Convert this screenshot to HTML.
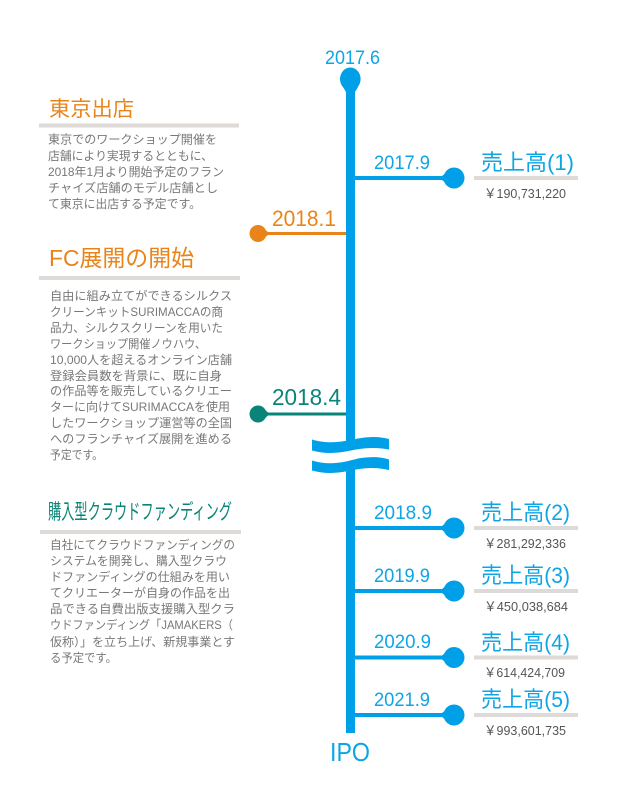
<!DOCTYPE html>
<html lang="ja"><head><meta charset="utf-8"><style>
html,body{margin:0;padding:0;background:#fff}
svg{display:block}
text{font-family:"Liberation Sans","Noto Sans CJK JP",sans-serif}
.b{font-size:12px;fill:#787878}
.d{fill:#0ea5e6}
.y{font-size:13px;fill:#555}
</style></head><body>
<svg width="618" height="794" viewBox="0 0 618 794" xmlns="http://www.w3.org/2000/svg">
<rect width="618" height="794" fill="#fff"/>
<g fill="#dedad7">
<rect x="39" y="123.500" width="200" height="4"/>
<rect x="39" y="276" width="201" height="4"/>
<rect x="40" y="530" width="201" height="4"/>
<rect x="474" y="176" width="104" height="4"/>
<rect x="474" y="526" width="104" height="4"/>
<rect x="474" y="589" width="104" height="4"/>
<rect x="474" y="655.500" width="104" height="4"/>
<rect x="474" y="713" width="104" height="4"/>
</g>
<g fill="#00a0e9">
<rect x="346" y="80" width="9" height="653"/>
<ellipse cx="350.300" cy="79" rx="10.300" ry="11.500"/>
<path d="M343 87L346 92H355L358 87Z"/>
<rect x="350" y="176" width="100" height="4"/><circle cx="454" cy="178" r="10.500"/><path d="M442 176L447 172V184L442 180Z"/>
<rect x="350" y="526" width="100" height="4"/><circle cx="454" cy="528" r="10.500"/><path d="M442 526L447 522V534L442 530Z"/>
<rect x="350" y="589" width="100" height="4"/><circle cx="454" cy="591" r="10.500"/><path d="M442 589L447 585V597L442 593Z"/>
<rect x="350" y="655.500" width="100" height="4"/><circle cx="454" cy="657.500" r="10.500"/><path d="M442 655.500L447 651.500V663.500L442 659.500Z"/>
<rect x="350" y="713" width="100" height="4"/><circle cx="454" cy="715" r="10.500"/><path d="M442 713L447 709V721L442 717Z"/>
</g>
<rect x="258" y="232" width="88" height="3" fill="#e8841a"/><circle cx="258" cy="233.500" r="8.500" fill="#e8841a"/><path d="M268 232L264 229V238L268 235Z" fill="#e8841a"/>
<rect x="258" y="412.500" width="88" height="3" fill="#0a8478"/><circle cx="258" cy="414" r="8.500" fill="#0a8478"/><path d="M268 412.500L264 409V419L268 415.500Z" fill="#0a8478"/>
<path d="M312 442H389V466H312Z" fill="#fff"/>
<path d="M312 439.500C330 445 345 441 358 438.500C370 436.500 380 436.500 389 439V449.500C378 447.500 368 447.500 356 449.500C342 452.500 328 455 312 450.500Z" fill="#00a0e9"/>
<path d="M312 460.500C330 466 345 462 358 458.500C370 456.500 380 456.500 389 459.500V470C378 467.500 368 467.500 356 469.500C342 472.500 328 475 312 470.500Z" fill="#00a0e9"/>
<g class="d">
<text x="325" y="64" font-size="19" textLength="55" lengthAdjust="spacingAndGlyphs">2017.6</text>
<text x="374" y="169" font-size="19" textLength="56" lengthAdjust="spacingAndGlyphs">2017.9</text>
<text x="374" y="519" font-size="19" textLength="58" lengthAdjust="spacingAndGlyphs">2018.9</text>
<text x="374" y="582" font-size="19" textLength="56" lengthAdjust="spacingAndGlyphs">2019.9</text>
<text x="374" y="648" font-size="19" textLength="57" lengthAdjust="spacingAndGlyphs">2020.9</text>
<text x="374" y="706" font-size="19" textLength="56" lengthAdjust="spacingAndGlyphs">2021.9</text>
<text x="330" y="761" font-size="26" textLength="40" lengthAdjust="spacingAndGlyphs">IPO</text>
<text x="481" y="170" font-size="22" textLength="93" lengthAdjust="spacingAndGlyphs">売上高(1)</text>
<text x="481" y="520" font-size="22" textLength="89" lengthAdjust="spacingAndGlyphs">売上高(2)</text>
<text x="481" y="583" font-size="22" textLength="89" lengthAdjust="spacingAndGlyphs">売上高(3)</text>
<text x="481" y="650" font-size="22" textLength="89" lengthAdjust="spacingAndGlyphs">売上高(4)</text>
<text x="481" y="707" font-size="22" textLength="89" lengthAdjust="spacingAndGlyphs">売上高(5)</text>
</g>
<text x="272" y="226" font-size="22" fill="#e8841a" textLength="64" lengthAdjust="spacingAndGlyphs">2018.1</text>
<text x="272" y="405" font-size="23" fill="#0a8478" textLength="69" lengthAdjust="spacingAndGlyphs">2018.4</text>
<text x="49" y="116" font-size="21" fill="#e8841a" textLength="85" lengthAdjust="spacingAndGlyphs">東京出店</text>
<text x="49" y="266" font-size="23" fill="#e8841a" textLength="145" lengthAdjust="spacingAndGlyphs">FC展開の開始</text>
<text x="48" y="519" font-size="21" fill="#0a8478" textLength="184" lengthAdjust="spacingAndGlyphs">購入型クラウドファンディング</text>
<g class="y">
<text x="484" y="198" textLength="82" lengthAdjust="spacingAndGlyphs">￥190,731,220</text>
<text x="484" y="548" textLength="82" lengthAdjust="spacingAndGlyphs">￥281,292,336</text>
<text x="484" y="611" textLength="84" lengthAdjust="spacingAndGlyphs">￥450,038,684</text>
<text x="484" y="677" textLength="81" lengthAdjust="spacingAndGlyphs">￥614,424,709</text>
<text x="484" y="735" textLength="82" lengthAdjust="spacingAndGlyphs">￥993,601,735</text>
</g>
<g class="b">
<text x="48" y="143.500" textLength="169" lengthAdjust="spacingAndGlyphs">東京でのワークショップ開催を</text>
<text x="48" y="160" textLength="165" lengthAdjust="spacingAndGlyphs">店舗により実現するとともに、</text>
<text x="48" y="176" textLength="176" lengthAdjust="spacingAndGlyphs">2018年1月より開始予定のフラン</text>
<text x="48" y="192" textLength="170" lengthAdjust="spacingAndGlyphs">チャイズ店舗のモデル店舗とし</text>
<text x="48" y="208" textLength="153" lengthAdjust="spacingAndGlyphs">て東京に出店する予定です。</text>
<text x="50" y="300" textLength="182" lengthAdjust="spacingAndGlyphs">自由に組み立てができるシルクス</text>
<text x="50" y="316" textLength="173" lengthAdjust="spacingAndGlyphs">クリーンキットSURIMACCAの商</text>
<text x="50" y="332" textLength="173" lengthAdjust="spacingAndGlyphs">品力、シルクスクリーンを用いた</text>
<text x="50" y="348" textLength="156" lengthAdjust="spacingAndGlyphs">ワークショップ開催ノウハウ、</text>
<text x="50" y="364" textLength="182" lengthAdjust="spacingAndGlyphs">10,000人を超えるオンライン店舗</text>
<text x="50" y="380" textLength="172" lengthAdjust="spacingAndGlyphs">登録会員数を背景に、既に自身</text>
<text x="50" y="395" textLength="182" lengthAdjust="spacingAndGlyphs">の作品等を販売しているクリエー</text>
<text x="50" y="411" textLength="180" lengthAdjust="spacingAndGlyphs">ターに向けてSURIMACCAを使用</text>
<text x="50" y="427" textLength="182" lengthAdjust="spacingAndGlyphs">したワークショップ運営等の全国</text>
<text x="50" y="443" textLength="182" lengthAdjust="spacingAndGlyphs">へのフランチャイズ展開を進める</text>
<text x="50" y="459" textLength="53" lengthAdjust="spacingAndGlyphs">予定です。</text>
<text x="50" y="549" textLength="185" lengthAdjust="spacingAndGlyphs">自社にてクラウドファンディングの</text>
<text x="50" y="565" textLength="177" lengthAdjust="spacingAndGlyphs">システムを開発し、購入型クラウ</text>
<text x="50" y="581" textLength="180" lengthAdjust="spacingAndGlyphs">ドファンディングの仕組みを用い</text>
<text x="50" y="597" textLength="180" lengthAdjust="spacingAndGlyphs">てクリエーターが自身の作品を出</text>
<text x="50" y="613" textLength="185" lengthAdjust="spacingAndGlyphs">品できる自費出版支援購入型クラ</text>
<text x="50" y="629" textLength="183" lengthAdjust="spacingAndGlyphs">ウドファンディング「JAMAKERS（</text>
<text x="50" y="646" textLength="185" lengthAdjust="spacingAndGlyphs">仮称）」を立ち上げ、新規事業とす</text>
<text x="50" y="662" textLength="67" lengthAdjust="spacingAndGlyphs">る予定です。</text>
</g>
</svg>
</body></html>
